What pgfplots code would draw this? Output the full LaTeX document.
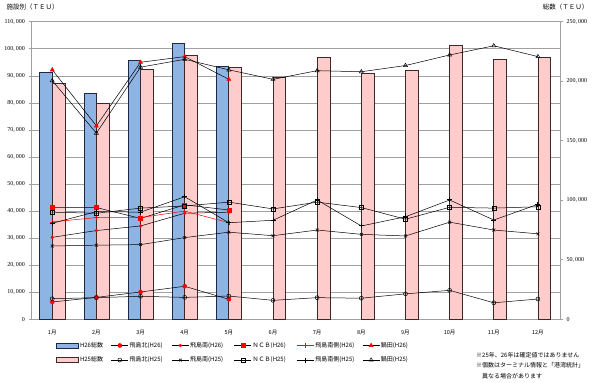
\documentclass[border=0pt]{standalone}
\usepackage{pgfplots}
\pgfplotsset{compat=1.18}
\usepackage{fontspec}
\setmainfont{Liberation Serif}
\newfontfamily\jp{Noto Sans CJK JP}
\definecolor{barblue}{RGB}{141,180,226}
\definecolor{baredge}{RGB}{30,40,70}
\definecolor{barpink}{RGB}{255,204,204}
\definecolor{pinkedge}{RGB}{60,40,40}
\definecolor{gridgray}{RGB}{160,160,160}
\begin{document}
\begin{tikzpicture}[x=1pt,y=1pt]
\useasboundingbox (0,0) rectangle (600,383);
\pgfplotsset{
  base/.style={scale only axis, width=528.5pt, height=297.6pt,
    at={(31.5pt,63.7pt)}, anchor=south west, xmin=0.53, xmax=12.5,
    scaled y ticks=false, scaled x ticks=false},
}
% grid + left axis + month labels
\begin{axis}[base, ymin=0, ymax=110000, ytick={0,10000,...,110000},
  yticklabels={{0},{10,\,000},{20,\,000},{30,\,000},{40,\,000},{50,\,000},{60,\,000},{70,\,000},{80,\,000},{90,\,000},{100,\,000},{110,\,000}},
  yticklabel style={font=\fontsize{6}{7}\selectfont},
  ymajorgrids, grid style={gridgray, line width=0.6pt},
  axis line style={gridgray, line width=0.6pt},
  ytick pos=left, tick align=outside, major tick length=3pt,
  y tick style={gridgray, line width=0.6pt},
  xtick={1,2,3,4,5,6,7,8,9,10,11,12},
  xticklabels={1月,2月,3月,4月,5月,6月,7月,8月,9月,10月,11月,12月},
  x tick style={draw=none},
  xticklabel style={font=\jp\fontsize{5.5}{6}\selectfont, yshift=-4pt}]
\addplot[draw=none] coordinates {(1,0)};
\end{axis}
% bars on right axis (totals)
\begin{axis}[base, ymin=0, ymax=250000, ytick={0,50000,...,250000},
  yticklabels={{0},{50,\,000},{100,\,000},{150,\,000},{200,\,000},{250,\,000}},
  yticklabel style={font=\fontsize{6}{7}\selectfont},
  axis y line*=right, axis x line=none, tick align=outside, major tick length=3pt,
  axis line style={gridgray, line width=0.6pt},
  y tick style={gridgray, line width=0.6pt}]
\addplot[ybar, bar width=0.28, bar shift=-0.14, fill=barblue, draw=baredge, line width=0.8pt]
 coordinates {(1,207000) (2,190000) (3,217200) (4,231500) (5,212400)};
\addplot[ybar, bar width=0.29, bar shift=0.145, fill=barpink, draw=pinkedge, line width=0.8pt]
 coordinates {(1,197800) (2,181600) (3,209600) (4,221400) (5,211900) (6,203000)
  (7,220300) (8,206800) (9,208800) (10,229800) (11,218600) (12,220300)};
\end{axis}
% lines on left axis (by facility)
\begin{axis}[base, ymin=0, ymax=110000, hide axis,
  every axis plot/.append style={line width=0.5pt, mark size=2pt},
  legend columns=6,
  legend style={font=\jp\fontsize{6}{7}\selectfont, draw=none, fill=none,
    inner xsep=0pt, inner ysep=0pt, at={(0.0464,-0.0729)}, anchor=north west,
    row sep=6pt, nodes={inner sep=1pt, text depth=0.15em}}]
\addlegendimage{legend image code/.code={\draw[fill=barblue,draw=baredge,line width=0.8pt] (0pt,-2.5pt) rectangle (22pt,2.5pt);}}
\addlegendentry{\makebox[30pt][l]{H26総数}}
\addplot[black, mark=*, mark options={fill=red, draw=red}]
 coordinates {(1,6400) (2,8100) (3,10100) (4,12200) (5,7400)};
\addlegendentry{\makebox[41pt][l]{飛島北(H26)}}
\addplot[black, mark=*, mark size=1.4pt, mark options={fill=red, draw=red}]
 coordinates {(1,30300) (2,32800) (3,34500) (4,39200) (5,39600)};
\addlegendentry{\makebox[43pt][l]{飛島南(H26)}}
\addplot[black, mark=square*, mark size=2pt, mark options={fill=red, draw=red}]
 coordinates {(1,41400) (2,41300) (3,37300) (4,42300) (5,40400)};
\addlegendentry{\makebox[43pt][l]{ＮＣＢ(H26)}}
\addplot[red, mark=+, mark size=2.2pt]
 coordinates {(1,36000) (2,37600) (3,37600) (4,40000) (5,35700)};
\addlegendentry{\makebox[46pt][l]{飛島南側(H26)}}
\addplot[black, mark=triangle*, mark size=2.3pt, mark options={fill=red, draw=red}]
 coordinates {(1,92200) (2,71500) (3,95000) (4,97100) (5,88700)};
\addlegendentry{\makebox[40pt][l]{鍋田(H26)}}
\addlegendimage{legend image code/.code={\draw[fill=barpink,draw=pinkedge,line width=0.8pt] (0pt,-2.5pt) rectangle (22pt,2.5pt);}}
\addlegendentry{\makebox[30pt][l]{H25総数}}
\addplot[black, mark=o, mark options={fill=white}]
 coordinates {(1,7600) (2,8000) (3,8500) (4,8100) (5,8600) (6,7000) (7,8000) (8,7800) (9,9400) (10,10700) (11,6100) (12,7500)};
\addlegendentry{\makebox[41pt][l]{飛島北(H25)}}
\addplot[black, mark=x, mark size=2pt]
 coordinates {(1,27100) (2,27400) (3,27600) (4,30200) (5,32200) (6,30900) (7,33000) (8,31400) (9,30800) (10,35900) (11,33000) (12,31600)};
\addlegendentry{\makebox[43pt][l]{飛島南(H25)}}
\addplot[black, mark=square, mark options={fill=white}]
 coordinates {(1,39600) (2,39200) (3,41100) (4,41900) (5,43300) (6,40800) (7,43300) (8,41300) (9,37000) (10,41400) (11,41100) (12,41600)};
\addlegendentry{\makebox[43pt][l]{ＮＣＢ(H25)}}
\addplot[black, mark=+, mark size=2.5pt, mark options={line width=1pt}]
 coordinates {(1,35500) (2,39800) (3,39600) (4,45300) (5,35700) (6,36600) (7,44100) (8,34500) (9,37900) (10,44100) (11,36700) (12,42500)};
\addlegendentry{\makebox[46pt][l]{飛島南側(H25)}}
\addplot[black, mark=triangle, mark size=2.3pt, mark options={fill=white}]
 coordinates {(1,88200) (2,68800) (3,93200) (4,96100) (5,92200) (6,88700) (7,91900) (8,91500) (9,93800) (10,97700) (11,101100) (12,97100)};
\addlegendentry{\makebox[40pt][l]{鍋田(H25)}}
\end{axis}
\node[anchor=west, font=\jp\fontsize{6.5}{7}\selectfont] at (3,376) {施設別（ＴＥＵ）};
\node[anchor=east, font=\jp\fontsize{6.5}{7}\selectfont] at (592,376) {総数（ＴＥＵ）};
\node[anchor=north west, align=left, inner sep=0pt, font=\jp\fontsize{6}{10.5}\selectfont] at (476,31)
 {※25年、26年は確定値ではありません\\※個数はターミナル情報と「港湾統計」\\　異なる場合があります};
\end{tikzpicture}
\end{document}
